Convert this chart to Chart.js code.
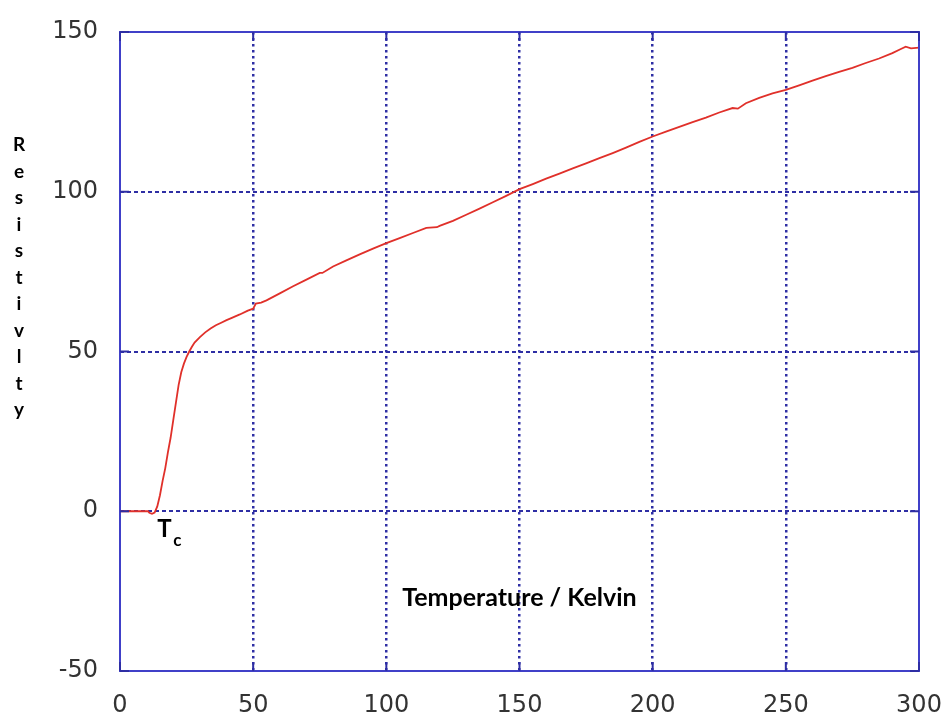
<!DOCTYPE html>
<html>
<head>
<meta charset="utf-8">
<script src="https://cdn.jsdelivr.net/npm/chart.js@4"></script>
<style>
  html, body { margin: 0; padding: 0; background: #fff; }
  #wrap { width: 943px; height: 715px; }
</style>
</head>
<body>
<div id="wrap"><canvas id="chart" width="943" height="715"></canvas></div>
<script>
// temperature in kelvin
const temperature = [0, 5, 10, 10.5, 11, 12, 13, 14, 15, 16, 17, 18, 19, 20, 21, 22, 23, 24, 25, 26, 27, 28,
  30, 32, 34, 36, 38, 40, 42, 45, 48, 50, 51, 53, 55, 60, 65, 70, 75, 76, 80, 85, 90, 95, 100, 105, 110,
  115, 119, 120, 125, 130, 135, 140, 145, 150, 155, 160, 165, 170, 175, 180, 185, 190, 195, 200, 205, 210,
  215, 220, 225, 230, 232, 235, 240, 245, 250, 255, 260, 265, 270, 275, 280, 285, 290, 293, 295, 297, 300];
const resistivity = [0, 0, 0, 0, -0.5, -0.8, -0.4, 1.5, 5, 9.5, 13.5, 18.5, 23, 28.5, 34, 39.5, 43.5, 46.2, 48.3, 50, 51.5, 52.8,
  54.5, 56, 57.2, 58.2, 59, 59.8, 60.5, 61.6, 62.8, 63.4, 65, 65.3, 66, 68.2, 70.4, 72.5, 74.6, 74.6, 76.6, 78.5, 80.4, 82.2, 83.9, 85.5, 87.1,
  88.7, 88.9, 89.3, 90.9, 92.8, 94.7, 96.7, 98.7, 100.8, 102.4, 104.1, 105.7, 107.3, 108.9, 110.5, 112.1, 113.8, 115.6, 117.3, 118.8, 120.3,
  121.8, 123.2, 124.8, 126.2, 126.0, 127.7, 129.4, 130.8, 131.9, 133.3, 134.8, 136.2, 137.5, 138.8, 140.3, 141.7, 143.4, 144.6, 145.4, 144.9, 145.1];

const xTicks = [0, 50, 100, 150, 200, 250, 300];
const yTicks = [-50, 0, 50, 100, 150];
const yTitle = 'Resistivlty';
const xTitle = 'Temperature / Kelvin';

const frameColor = '#4040c8';
const gridColor = '#2e2ea4';

const points = temperature.map((t, i) => ({x: t, y: resistivity[i]}));

// frame, inward ticks and in-plot text
const decorations = {
  id: 'decorations',
  afterDraw(chart) {
    const {ctx, chartArea: a, scales: {x, y}} = chart;
    ctx.save();
    ctx.strokeStyle = frameColor;
    ctx.lineWidth = 2;
    ctx.setLineDash([]);
    ctx.strokeRect(a.left, a.top, a.right - a.left, a.bottom - a.top);

    ctx.lineWidth = 2;
    ctx.strokeStyle = gridColor;
    xTicks.forEach((t) => {
      const px = x.getPixelForValue(t);
      ctx.beginPath();
      ctx.moveTo(px, a.bottom); ctx.lineTo(px, a.bottom - 9);
      ctx.moveTo(px, a.top); ctx.lineTo(px, a.top + 9);
      ctx.stroke();
    });
    yTicks.forEach((t) => {
      const py = y.getPixelForValue(t);
      ctx.beginPath();
      ctx.moveTo(a.left, py); ctx.lineTo(a.left + 9, py);
      ctx.moveTo(a.right, py); ctx.lineTo(a.right - 9, py);
      ctx.stroke();
    });

    ctx.fillStyle = '#000';
    ctx.textAlign = 'center';
    ctx.textBaseline = 'middle';
    ctx.font = 'bold 25px Lato';
    ctx.fillText(xTitle, x.getPixelForValue(150), y.getPixelForValue(-27));

    ctx.font = 'bold 19px Lato';
    yTitle.split('').forEach((ch, i) => {
      ctx.fillText(ch, 19, 145 + i * 26.5);
    });

    ctx.textAlign = 'left';
    ctx.textBaseline = 'alphabetic';
    ctx.font = 'bold 24px Lato';
    ctx.fillText('T', x.getPixelForValue(14), y.getPixelForValue(-8));
    ctx.font = 'bold 17px Lato';
    ctx.fillText('c', x.getPixelForValue(20), y.getPixelForValue(-11));
    ctx.restore();
  }
};

new Chart(document.getElementById('chart'), {
  type: 'line',
  data: {
    datasets: [{
      data: points,
      borderColor: '#e0302a',
      borderWidth: 1.8,
      fill: false,
      tension: 0,
      pointRadius: 0
    }]
  },
  options: {
    responsive: false,
    animation: false,
    events: [],
    layout: { padding: { top: 32, right: 24, left: 0, bottom: 0 } },
    plugins: {
      legend: { display: false },
      tooltip: { enabled: false }
    },
    scales: {
      x: {
        type: 'linear',
        min: 0,
        max: 300,
        afterFit: (scale) => {
          scale.height = 44;
          scale.paddingLeft = 0;
          scale.paddingRight = 0;
        },
        afterBuildTicks: (scale) => { scale.ticks = xTicks.map((v) => ({value: v})); },
        border: { display: false, dash: [2.5, 3.5] },
        grid: {
          drawTicks: false,
          color: (c) => (c.tick.value === 0 || c.tick.value === 300) ? 'rgba(0,0,0,0)' : gridColor,
          lineWidth: 2.5
        },
        ticks: {
          padding: 20,
          color: '#333',
          font: { family: 'DejaVu Sans', size: 24 }
        }
      },
      y: {
        min: -50,
        max: 150,
        afterFit: (scale) => {
          scale.width = 120;
          scale.paddingTop = 0;
          scale.paddingBottom = 0;
        },
        afterBuildTicks: (scale) => { scale.ticks = yTicks.map((v) => ({value: v})); },
        border: { display: false, dash: [4, 3] },
        grid: {
          drawTicks: false,
          color: (c) => (c.tick.value === -50 || c.tick.value === 150) ? 'rgba(0,0,0,0)' : gridColor,
          lineWidth: 2
        },
        ticks: {
          padding: 22,
          color: '#333',
          font: { family: 'DejaVu Sans', size: 24 }
        }
      }
    }
  },
  plugins: [decorations]
});
</script>
</body>
</html>
